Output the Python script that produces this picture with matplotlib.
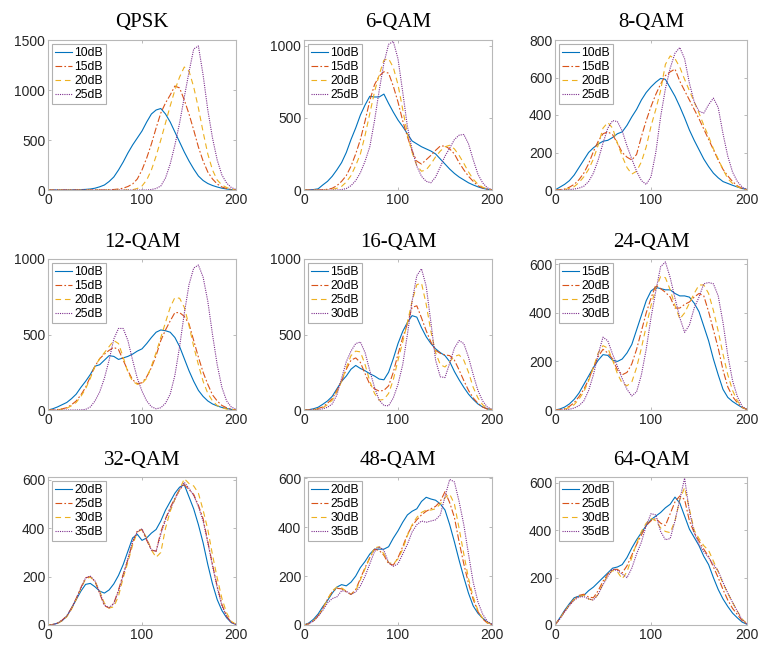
import numpy as np
import matplotlib
matplotlib.use("Agg")
import matplotlib.pyplot as plt

# histogram bins (x axis), 0..200 step 5
bins = list(range(0, 201, 5))

# ---- QPSK ----
qpsk_10 = [0, 0, 0, 0, 0, 1, 2, 4, 6, 10, 18, 32, 50, 85, 130, 200, 280, 370, 450, 520,
           590, 680, 760, 800, 815, 760, 680, 580, 480, 380, 290, 210, 140, 95, 65, 45, 30, 18, 10, 4, 0]
qpsk_15 = [0] * 13 + [2, 5, 10, 18, 35, 60, 110, 200, 320, 460, 620, 770, 870, 950, 1040, 1020, 900,
                      760, 600, 430, 290, 180, 110, 60, 30, 15, 5, 0]
qpsk_20 = [0] * 18 + [3, 15, 40, 100, 200, 340, 500, 670, 840, 1000, 1130, 1230, 1190, 1030, 820,
                      580, 360, 200, 100, 50, 25, 10, 0]
qpsk_25 = [0] * 22 + [5, 15, 40, 120, 260, 450, 670, 930, 1180, 1410, 1440, 1150, 800, 520, 300,
                      150, 70, 25, 5]

# ---- 6-QAM ----
qam6_10 = [0, 0, 3, 8, 35, 60, 95, 140, 190, 260, 350, 430, 520, 590, 650, 645, 645, 665, 600, 540,
           485, 440, 390, 340, 320, 300, 285, 270, 250, 215, 180, 145, 115, 90, 70, 50, 35, 22, 12, 5, 2]
qam6_15 = [0, 0, 0, 0, 2, 5, 12, 30, 60, 100, 165, 250, 350, 480, 620, 730, 790, 820, 810, 720,
           610, 480, 370, 270, 200, 180, 210, 240, 275, 305, 305, 285, 250, 190, 140, 95, 60, 30, 15, 5, 0]
qam6_20 = [0, 0, 0, 0, 0, 0, 5, 12, 25, 55, 100, 170, 250, 380, 530, 680, 800, 900, 910, 850,
           730, 560, 390, 260, 170, 130, 140, 180, 230, 270, 300, 310, 285, 240, 185, 125, 75, 40, 20, 8, 0]
qam6_25 = [0, 0, 0, 0, 0, 0, 0, 0, 3, 10, 30, 65, 120, 200, 300, 480, 690, 880, 1010, 1030,
           910, 680, 440, 280, 165, 95, 60, 50, 90, 160, 235, 290, 350, 380, 385, 320, 210, 110, 50, 15, 3]

# ---- 8-QAM ----
qam8_10 = [0, 15, 30, 50, 80, 120, 160, 200, 225, 245, 260, 265, 280, 300, 310, 345, 390, 430, 480, 520,
           550, 575, 595, 590, 545, 500, 445, 385, 320, 265, 215, 165, 125, 90, 65, 45, 35, 25, 16, 8, 3]
qam8_15 = [0, 2, 5, 15, 30, 55, 90, 140, 205, 260, 300, 310, 295, 250, 200, 175, 160, 190, 285, 370,
           445, 510, 565, 610, 630, 645, 580, 530, 480, 430, 380, 325, 270, 215, 160, 110, 75, 45, 22, 8, 2]
qam8_20 = [0, 0, 3, 8, 18, 40, 70, 110, 165, 240, 330, 360, 330, 250, 180, 120, 85, 100, 150, 230,
           340, 430, 530, 670, 715, 700, 655, 590, 530, 470, 410, 345, 285, 220, 165, 110, 60, 35, 18, 6, 2]
qam8_25 = [0, 0, 0, 2, 5, 10, 20, 45, 90, 160, 250, 330, 370, 365, 315, 235, 165, 100, 50, 30,
           70, 200, 390, 540, 650, 730, 760, 700, 570, 470, 420, 410, 455, 490, 440, 300, 180, 95, 45, 15, 3]

# ---- 12-QAM ----
qam12_10 = [0, 8, 20, 35, 50, 75, 105, 150, 190, 235, 290, 300, 330, 360, 355, 335, 345, 355, 370, 390,
            405, 440, 480, 515, 530, 525, 515, 480, 420, 340, 260, 190, 130, 90, 60, 40, 27, 17, 10, 4, 1]
qam12_15 = [0, 0, 3, 8, 15, 35, 60, 100, 150, 220, 290, 340, 370, 395, 415, 400, 330, 260, 200, 175,
            180, 220, 280, 360, 460, 530, 590, 645, 645, 620, 570, 460, 350, 250, 170, 100, 60, 30, 15, 5, 1]
qam12_20 = [0, 0, 2, 5, 12, 28, 50, 90, 140, 210, 290, 340, 380, 420, 460, 440, 350, 250, 190, 170,
            175, 210, 290, 380, 480, 580, 680, 745, 740, 680, 560, 420, 300, 190, 110, 60, 30, 15, 6, 2, 0]
qam12_25 = [0, 0, 0, 0, 0, 0, 0, 1, 4, 20, 60, 120, 210, 330, 470, 540, 540, 460, 330, 210,
            125, 60, 22, 8, 15, 45, 105, 230, 420, 640, 830, 940, 960, 880, 720, 500, 300, 150, 60, 20, 4]

# ---- 16-QAM ----
qam16_15 = [0, 2, 8, 18, 38, 60, 90, 140, 190, 225, 270, 295, 275, 260, 240, 225, 205, 200, 250, 340,
            440, 520, 580, 625, 615, 545, 485, 440, 405, 380, 360, 320, 255, 200, 150, 105, 70, 40, 20, 8, 2]
qam16_20 = [0, 0, 4, 10, 20, 45, 75, 130, 190, 270, 330, 345, 315, 240, 170, 140, 125, 130, 160, 250,
            370, 480, 570, 680, 690, 610, 525, 450, 395, 375, 365, 360, 330, 265, 195, 130, 80, 45, 20, 6, 1]
qam16_25 = [0, 0, 2, 6, 15, 35, 65, 120, 190, 280, 360, 390, 385, 300, 190, 110, 65, 70, 110, 200,
            330, 450, 580, 720, 830, 840, 700, 520, 380, 300, 285, 320, 355, 365, 330, 250, 150, 80, 35, 12, 2]
qam16_30 = [0, 0, 0, 2, 8, 18, 40, 100, 210, 320, 390, 440, 450, 380, 260, 150, 65, 30, 28, 80,
            170, 300, 500, 720, 890, 935, 820, 580, 330, 220, 215, 310, 410, 460, 440, 350, 235, 130, 60, 20, 4]

# ---- 24-QAM ----
qam24_15 = [0, 4, 12, 25, 44, 70, 105, 140, 175, 205, 228, 225, 205, 200, 210, 235, 270, 330, 390, 450,
            490, 505, 500, 495, 495, 480, 470, 470, 465, 440, 405, 345, 285, 210, 145, 85, 52, 35, 22, 10, 3]
qam24_20 = [0, 2, 5, 15, 30, 55, 85, 125, 175, 220, 250, 235, 210, 165, 145, 155, 190, 250, 325, 400,
            460, 515, 500, 485, 465, 420, 420, 435, 445, 465, 480, 470, 405, 330, 255, 165, 95, 55, 30, 10, 2]
qam24_25 = [0, 0, 3, 10, 22, 45, 75, 120, 175, 235, 265, 255, 205, 150, 110, 100, 115, 175, 255, 345,
            430, 500, 550, 545, 495, 430, 375, 400, 440, 480, 515, 515, 480, 410, 325, 230, 145, 80, 37, 12, 2]
qam24_30 = [0, 0, 0, 3, 8, 18, 37, 80, 145, 230, 300, 285, 230, 180, 130, 85, 58, 75, 145, 250,
            380, 490, 590, 610, 545, 460, 380, 320, 350, 420, 465, 520, 525, 520, 470, 360, 225, 120, 55, 15, 2]

# ---- 32-QAM ----
qam32_20 = [0, 2, 7, 18, 36, 70, 105, 140, 168, 172, 158, 140, 132, 145, 170, 205, 250, 305, 360, 375,
            350, 360, 380, 395, 430, 475, 510, 545, 570, 580, 530, 480, 415, 340, 250, 170, 105, 60, 30, 10, 2]
qam32_25 = [0, 2, 8, 20, 38, 70, 110, 155, 195, 200, 180, 130, 80, 70, 90, 145, 210, 270, 340, 390,
            395, 350, 310, 305, 385, 440, 485, 525, 560, 580, 560, 540, 495, 440, 345, 250, 160, 85, 36, 12, 2]
qam32_30 = [0, 2, 6, 17, 34, 65, 105, 150, 190, 198, 180, 140, 90, 70, 75, 120, 195, 260, 330, 385,
            395, 360, 310, 280, 300, 400, 470, 520, 560, 605, 585, 575, 545, 475, 395, 290, 195, 110, 50, 15, 3]
qam32_35 = [0, 2, 7, 19, 37, 68, 108, 152, 195, 202, 182, 135, 82, 72, 88, 140, 205, 275, 345, 385,
            398, 355, 310, 305, 375, 435, 480, 520, 560, 590, 565, 535, 490, 430, 340, 245, 155, 80, 35, 10, 2]

# ---- 48-QAM ----
qam48_20 = [0, 8, 23, 45, 75, 100, 130, 155, 165, 160, 175, 200, 235, 260, 290, 310, 310, 310, 320, 355,
            385, 420, 450, 465, 475, 505, 522, 515, 510, 495, 470, 410, 340, 265, 195, 130, 78, 48, 28, 12, 3]
qam48_25 = [0, 5, 18, 38, 68, 105, 135, 150, 148, 135, 125, 145, 190, 235, 275, 310, 305, 285, 250, 245,
            275, 320, 370, 405, 430, 450, 465, 475, 485, 505, 545, 500, 440, 340, 250, 170, 105, 55, 25, 8, 2]
qam48_30 = [0, 5, 17, 36, 65, 105, 140, 155, 152, 138, 125, 140, 185, 230, 275, 315, 320, 290, 255, 250,
            270, 310, 365, 410, 440, 460, 470, 470, 475, 495, 520, 535, 495, 395, 290, 190, 115, 60, 28, 10, 2]
qam48_35 = [0, 5, 15, 35, 60, 90, 108, 115, 140, 138, 125, 135, 160, 200, 250, 300, 320, 305, 255, 240,
            250, 290, 330, 380, 410, 425, 420, 425, 430, 450, 525, 595, 585, 505, 410, 290, 175, 95, 45, 15, 3]

# ---- 64-QAM ----
qam64_20 = [0, 30, 62, 90, 115, 122, 125, 145, 160, 180, 200, 220, 240, 245, 255, 285, 325, 360, 390, 420,
            445, 460, 475, 495, 510, 540, 515, 460, 405, 370, 335, 290, 255, 200, 150, 110, 78, 50, 30, 12, 3]
qam64_25 = [0, 28, 58, 85, 110, 125, 130, 118, 115, 145, 185, 215, 235, 235, 220, 250, 295, 340, 380, 420,
            440, 450, 430, 420, 470, 520, 545, 530, 440, 390, 355, 320, 290, 245, 200, 150, 105, 70, 44, 18, 4]
qam64_30 = [0, 28, 57, 85, 108, 120, 125, 110, 105, 130, 175, 210, 230, 225, 195, 225, 285, 345, 395, 430,
            450, 440, 410, 395, 390, 440, 530, 580, 490, 400, 365, 335, 315, 270, 225, 175, 135, 95, 58, 25, 5]
qam64_35 = [0, 25, 55, 82, 105, 118, 120, 110, 105, 130, 170, 205, 235, 230, 215, 200, 240, 300, 350, 420,
            470, 465, 395, 360, 365, 440, 530, 620, 480, 390, 340, 310, 285, 255, 228, 180, 135, 95, 57, 22, 5]

titles = ["QPSK", "6-QAM", "8-QAM", "12-QAM", "16-QAM", "24-QAM", "32-QAM", "48-QAM", "64-QAM"]
snr_labels = [["10dB", "15dB", "20dB", "25dB"]] * 4 + [["15dB", "20dB", "25dB", "30dB"]] * 2 \
    + [["20dB", "25dB", "30dB", "35dB"]] * 3
curves = [
    [qpsk_10, qpsk_15, qpsk_20, qpsk_25],
    [qam6_10, qam6_15, qam6_20, qam6_25],
    [qam8_10, qam8_15, qam8_20, qam8_25],
    [qam12_10, qam12_15, qam12_20, qam12_25],
    [qam16_15, qam16_20, qam16_25, qam16_30],
    [qam24_15, qam24_20, qam24_25, qam24_30],
    [qam32_20, qam32_25, qam32_30, qam32_35],
    [qam48_20, qam48_25, qam48_30, qam48_35],
    [qam64_20, qam64_25, qam64_30, qam64_35],
]
y_top = [1500, 1040, 800, 1000, 1000, 622, 612, 605, 625]
y_ticks = [[0, 500, 1000, 1500], [0, 500, 1000], [0, 200, 400, 600, 800], [0, 500, 1000], [0, 500, 1000],
           [0, 200, 400, 600], [0, 200, 400, 600], [0, 200, 400, 600], [0, 200, 400, 600]]

# matlab default colours / line styles
colors = ["#0072BD", "#D95319", "#EDB120", "#7E2F8E"]
styles = ["-", (0, (6, 2, 1.5, 2)), (0, (5, 3.5)), (0, (1, 1))]

W, H = 759, 650
fig = plt.figure(figsize=(W / 100, H / 100), dpi=100)

# axes boxes in pixels: (left, top, right, bottom)
col_px = [(48, 236), (304, 492), (555, 747)]
row_px = [(40, 190), (259, 410), (477, 625)]

for i in range(9):
    l, r = col_px[i % 3]
    t, b = row_px[i // 3]
    ax = fig.add_axes([l / W, 1 - b / H, (r - l) / W, (b - t) / H])
    for k in range(4):
        ax.plot(bins, curves[i][k], color=colors[k], linestyle=styles[k], lw=0.8, label=snr_labels[i][k])
    ax.set_xlim(0, 200)
    ax.set_ylim(0, y_top[i])
    ax.set_xticks([0, 100, 200])
    ax.set_yticks(y_ticks[i])
    ax.tick_params(direction="in", length=2.5, width=0.6, color="#b0b0b0", labelsize=10,
                   labelcolor="#262626", top=True, right=True, pad=2)
    for lab in ax.get_xticklabels() + ax.get_yticklabels():
        lab.set_family("Liberation Sans")
    for sp in ax.spines.values():
        sp.set_color("#b8b8b8")
        sp.set_linewidth(0.8)
    ax.set_title(titles[i], family="Liberation Serif", fontsize=15, pad=9)
    leg = ax.legend(loc="upper left", prop={"family": "Liberation Sans", "size": 8.8},
                    handlelength=1.4, handletextpad=0.15, labelspacing=0.15, borderpad=0.25,
                    borderaxespad=0.35, fancybox=False, framealpha=1)
    leg.get_frame().set_edgecolor("#b0b0b0")
    leg.get_frame().set_linewidth(0.8)

fig.savefig("out.png", dpi=100)
